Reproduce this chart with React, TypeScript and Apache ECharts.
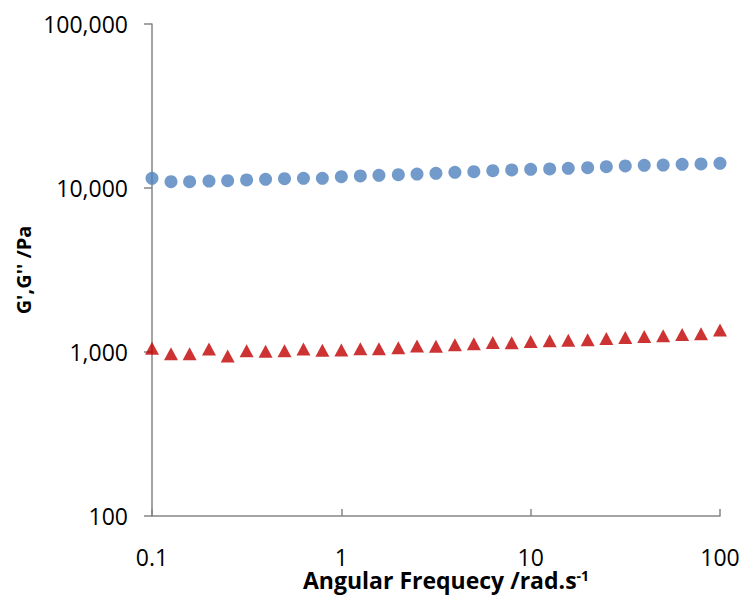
import React, { useEffect, useRef } from "react";
import * as echarts from "echarts";

const frequencies = [
  0.1, 0.126, 0.158, 0.2, 0.251, 0.316, 0.398, 0.501, 0.631, 0.794,
  1, 1.26, 1.58, 2, 2.51, 3.16, 3.98, 5.01, 6.31, 7.94,
  10, 12.6, 15.8, 20, 25.1, 31.6, 39.8, 50.1, 63.1, 79.4, 100,
];
const storageModulus = [
  11460, 10920, 10920, 11030, 11080, 11190, 11300, 11400, 11460, 11460,
  11720, 11840, 11950, 12050, 12170, 12290, 12465, 12570, 12750, 12880,
  13000, 13060, 13180, 13300, 13490, 13620, 13750, 13810, 13950, 14010, 14150,
];
const lossModulus = [
  1053, 976, 976, 1043, 945, 1018, 1010, 1018, 1043, 1024,
  1028, 1047, 1047, 1062, 1088, 1083, 1108, 1124, 1143, 1140,
  1159, 1170, 1178, 1189, 1209, 1226, 1243, 1255, 1278, 1291, 1362,
];
const xAxisTitle = "Angular Frequecy /rad.s";
const xAxisTitleSup = "-1";
const yAxisTitle = "G',G'' /Pa";

const FONT = "'Open Sans', 'Liberation Sans', sans-serif";

export default function App() {
  const ref = useRef<HTMLDivElement>(null);
  useEffect(() => {
    if (!ref.current) return;
    const chart = echarts.init(ref.current, null, { renderer: "svg" });
    chart.setOption({
      animation: false,
      backgroundColor: "#ffffff",
      grid: {
        left: 152,
        right: 24,
        top: 24,
        bottom: 79,
        containLabel: false,
        outerBoundsMode: "none",
      },
      xAxis: {
        type: "log",
        logBase: 10,
        min: 0.1,
        max: 100,
        name: xAxisTitle + "{sup|" + xAxisTitleSup + "}",
        nameLocation: "middle",
        nameGap: 52,
        nameMoveOverlap: false,
        nameTextStyle: {
          fontFamily: FONT,
          fontSize: 23,
          lineHeight: 23,
          fontWeight: "bold",
          color: "#000",
          padding: [0, 0, 0, 20],
          rich: {
            sup: {
              fontFamily: FONT,
              fontSize: 14,
              lineHeight: 23,
              fontWeight: "bold",
              color: "#000",
              verticalAlign: "top",
              padding: [0, 0, 10, 0],
            },
          },
        },
        axisLine: { show: true, lineStyle: { color: "#868686", width: 1.5 } },
        axisTick: { show: true, inside: true, length: 7, lineStyle: { color: "#868686", width: 1.5 } },
        minorTick: { show: false },
        splitLine: { show: false },
        axisLabel: {
          margin: 29,
          fontFamily: FONT,
          fontSize: 23,
          lineHeight: 23,
          color: "#000",
          formatter: (v: number) => String(Math.round(v * 1000) / 1000),
        },
      },
      yAxis: {
        type: "log",
        logBase: 10,
        min: 100,
        max: 100000,
        name: yAxisTitle,
        nameLocation: "middle",
        nameGap: 119,
        nameMoveOverlap: false,
        nameRotate: 90,
        nameTextStyle: { fontFamily: FONT, fontSize: 20, fontWeight: "bold", color: "#000" },
        axisLine: { show: true, lineStyle: { color: "#868686", width: 1.5 } },
        axisTick: { show: true, inside: false, length: 8, lineStyle: { color: "#868686", width: 1.5 } },
        splitLine: { show: false },
        axisLabel: {
          margin: 24,
          fontFamily: FONT,
          fontSize: 23,
          color: "#000",
          formatter: (v: number) => Math.round(v).toLocaleString("en-US"),
        },
      },
      series: [
        {
          name: "G'",
          type: "scatter",
          symbol: "circle",
          symbolSize: 13,
          itemStyle: { color: "#4F81BD" },
          data: frequencies.map((f, i) => [f, storageModulus[i]]),
        },
        {
          name: "G''",
          type: "scatter",
          symbol: "triangle",
          symbolSize: [14, 13],
          itemStyle: { color: "#C00000" },
          data: frequencies.map((f, i) => [f, lossModulus[i]]),
        },
      ],
    });
    return () => chart.dispose();
  }, []);
  return (
    <div
      ref={ref}
      style={{ position: "fixed", left: 0, top: 0, width: 744, height: 595 }}
    />
  );
}
